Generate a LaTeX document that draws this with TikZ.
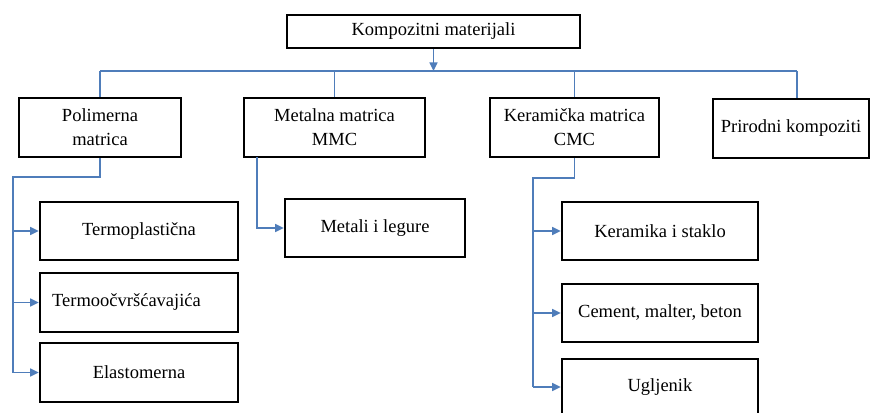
\documentclass[tikz,border=0pt]{standalone}
\usepackage{fontspec}
\setmainfont{Liberation Serif}
\usetikzlibrary{arrows.meta}
\definecolor{linkblue}{HTML}{4F7DBA}
\tikzset{
  box/.style={draw=black, line width=2.7pt, fill=white, inner sep=0pt,
    align=center, font=\fontsize{18.5}{24}\selectfont},
  conn/.style={draw=linkblue, line width=1.4pt},
  arr/.style={conn, -{Triangle[length=8.5pt,width=8pt]}},
}
\begin{document}
\begin{tikzpicture}[x=1pt,y=-1pt]
\clip (0,0) rectangle (872,412);
\fill[white] (0,0) rectangle (872,412);

% top level
\node[box, minimum width=293pt, minimum height=33pt] (top) at (433.5,31.5) {Kompozitni materijali};

% matrix types
\node[box, minimum width=162pt, minimum height=59pt] (pol) at (100,127.5) {Polimerna\\matrica};
\node[box, minimum width=181pt, minimum height=59pt] (met) at (334.5,127.5) {Metalna matrica\\MMC};
\node[box, minimum width=169pt, minimum height=59pt] (ker) at (574.5,127.5) {Keramička matrica\\CMC};
\node[box, minimum width=156pt, minimum height=59pt] (pri) at (791,128.5) {Prirodni kompoziti};

% polymer matrix
\node[box, minimum width=198pt, minimum height=58pt] (tp) at (139,231) {Termoplastična};
\node[box, minimum width=198pt, minimum height=59pt] (tv) at (139,302.5) {};
\node[anchor=west, inner sep=0pt, font=\fontsize{18.5}{24}\selectfont] (tvl) at (52,302.5) {Termoočvršćavajića};
\node[box, minimum width=198pt, minimum height=59pt] (el) at (139,372.5) {Elastomerna};

% metal matrix
\node[box, minimum width=180pt, minimum height=58pt] (ml) at (375,228) {Metali i legure};

% ceramic matrix
\node[box, minimum width=196pt, minimum height=58pt] (ks) at (660,231) {Keramika i staklo};
\node[box, minimum width=196pt, minimum height=58pt] (cm) at (660,313) {Cement, malter, beton};
\node[box, minimum width=196pt, minimum height=56pt] (ug) at (660,387) {Ugljenik};

% bus under the top box
\coordinate (busL) at (100,71);
\coordinate (busR) at (797,71);
\draw[conn] (busL) -- (busR);
\draw[arr] (top.south) -- (top.south |- busL);
\draw[conn] (busL) -- (busL |- pol.north);
\draw[conn] (met.north |- busL) -- (met.north);
\draw[conn] (ker.north |- busL) -- (ker.north);
\draw[conn] (busR) -- (busR |- pri.north);

% polymer branch
\coordinate (pj) at (13,177);
\draw[conn] (pol.south) -- (pol.south |- pj) -- (pj) -- (pj |- el.west);
\draw[arr] (pj |- tp.west) -- (tp.west);
\draw[arr] (pj |- tv.west) -- (tv.west);
\draw[arr] (pj |- el.west) -- (el.west);

% metal branch
\coordinate (mj) at (257,157);
\draw[arr] (mj) |- (ml.west);

% ceramic branch
\coordinate (kj) at (533,178);
\draw[conn] (ker.south) -- (ker.south |- kj) -- (kj) -- (kj |- ug.west);
\draw[arr] (kj |- ks.west) -- (ks.west);
\draw[arr] (kj |- cm.west) -- (cm.west);
\draw[arr] (kj |- ug.west) -- (ug.west);
\end{tikzpicture}
\end{document}
